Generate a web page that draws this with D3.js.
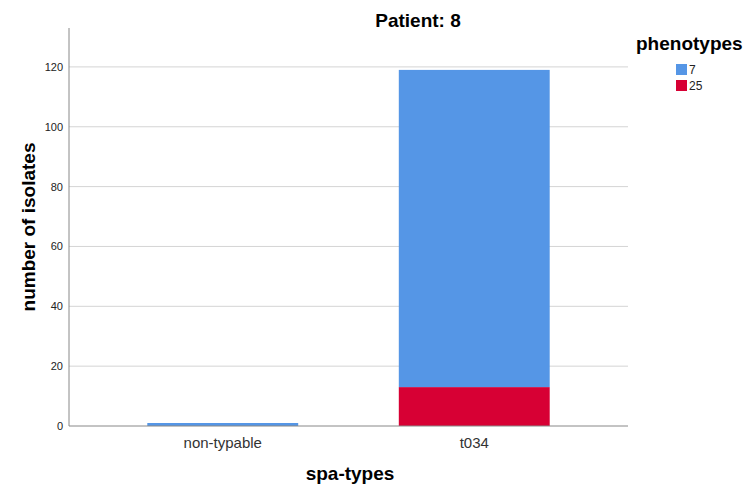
<!DOCTYPE html>
<html>
<head>
<meta charset="utf-8">
<script src="https://cdn.jsdelivr.net/npm/d3@7"></script>
<style>
  body { margin: 0; background: #fff; }
  text { font-family: "Liberation Sans", Arial, sans-serif; }
</style>
</head>
<body>
<svg width="749" height="495"></svg>
<script>
'use strict';
var categories = ["non-typable", "t034"];
var phenotypes = ["7", "25"];
var values7 = [1, 106];
var values25 = [0, 13];
var yTicks = [0, 20, 40, 60, 80, 100, 120];
var colors = ["#5596e6", "#d70034"];

var svg = d3.select("svg");
var plotLeft = 69, plotRight = 628, plotTop = 28, plotBottom = 426;

var x = d3.scaleBand().domain(categories).range([97, 600])
    .paddingInner(0.4).paddingOuter(0.2);
var y = d3.scaleLinear().domain([0, 133]).range([plotBottom, plotTop]);

// grid
svg.append("g").selectAll("line")
    .data(yTicks.filter(function(d){ return d > 0; }))
    .enter().append("line")
    .attr("x1", plotLeft).attr("x2", plotRight)
    .attr("y1", function(d){ return y(d); }).attr("y2", function(d){ return y(d); })
    .attr("stroke", "#d4d4d4").attr("stroke-width", 1);

// stacked data
var rows = categories.map(function(c, i){
    return { cat: c, "7": values7[i], "25": values25[i] };
});
var stack = d3.stack().keys(["25", "7"])(rows);

svg.append("g").selectAll("g")
    .data(stack).enter().append("g")
    .attr("fill", function(d){ return colors[phenotypes.indexOf(d.key)]; })
    .selectAll("rect")
    .data(function(d){ return d; })
    .enter().append("rect")
    .attr("x", function(d){ return x(d.data.cat); })
    .attr("width", x.bandwidth())
    .attr("y", function(d){ return y(d[1]); })
    .attr("height", function(d){ return y(d[0]) - y(d[1]); });

// y axis
var yAxis = svg.append("g").attr("transform", "translate(" + plotLeft + ",0)")
    .call(d3.axisLeft(y).tickValues(yTicks).tickSize(0).tickPadding(6));
yAxis.select(".domain").attr("stroke", "#888").attr("d", "M0," + plotTop + "V" + plotBottom);
yAxis.selectAll("text").attr("font-size", 11).attr("fill", "#222");

// x axis
var xAxis = svg.append("g").attr("transform", "translate(0," + plotBottom + ")")
    .call(d3.axisBottom(x).tickSize(0).tickPadding(11));
xAxis.select(".domain").attr("stroke", "#888").attr("d", "M" + plotLeft + ",0H" + plotRight);
xAxis.selectAll("text").attr("font-size", 15).attr("fill", "#333");

// titles
svg.append("text").attr("x", 418).attr("y", 27).attr("text-anchor", "middle")
    .attr("font-size", 19).attr("font-weight", "bold").text("Patient: 8");
svg.append("text").attr("x", 350).attr("y", 480).attr("text-anchor", "middle")
    .attr("font-size", 19).attr("font-weight", "bold").text("spa-types");
svg.append("text").attr("transform", "translate(35,227) rotate(-90)")
    .attr("text-anchor", "middle")
    .attr("font-size", 19).attr("font-weight", "bold").text("number of isolates");

// legend
var legend = svg.append("g");
legend.append("text").attr("x", 636).attr("y", 50)
    .attr("font-size", 19).attr("font-weight", "bold").text("phenotypes");
var items = legend.selectAll("g.item").data(phenotypes).enter().append("g")
    .attr("transform", function(d, i){ return "translate(676," + (64 + i * 16) + ")"; });
items.append("rect").attr("width", 11).attr("height", 11)
    .attr("fill", function(d, i){ return colors[i]; });
items.append("text").attr("x", 13).attr("y", 10).attr("font-size", 12)
    .attr("fill", "#222").text(function(d){ return d; });
</script>
</body>
</html>
